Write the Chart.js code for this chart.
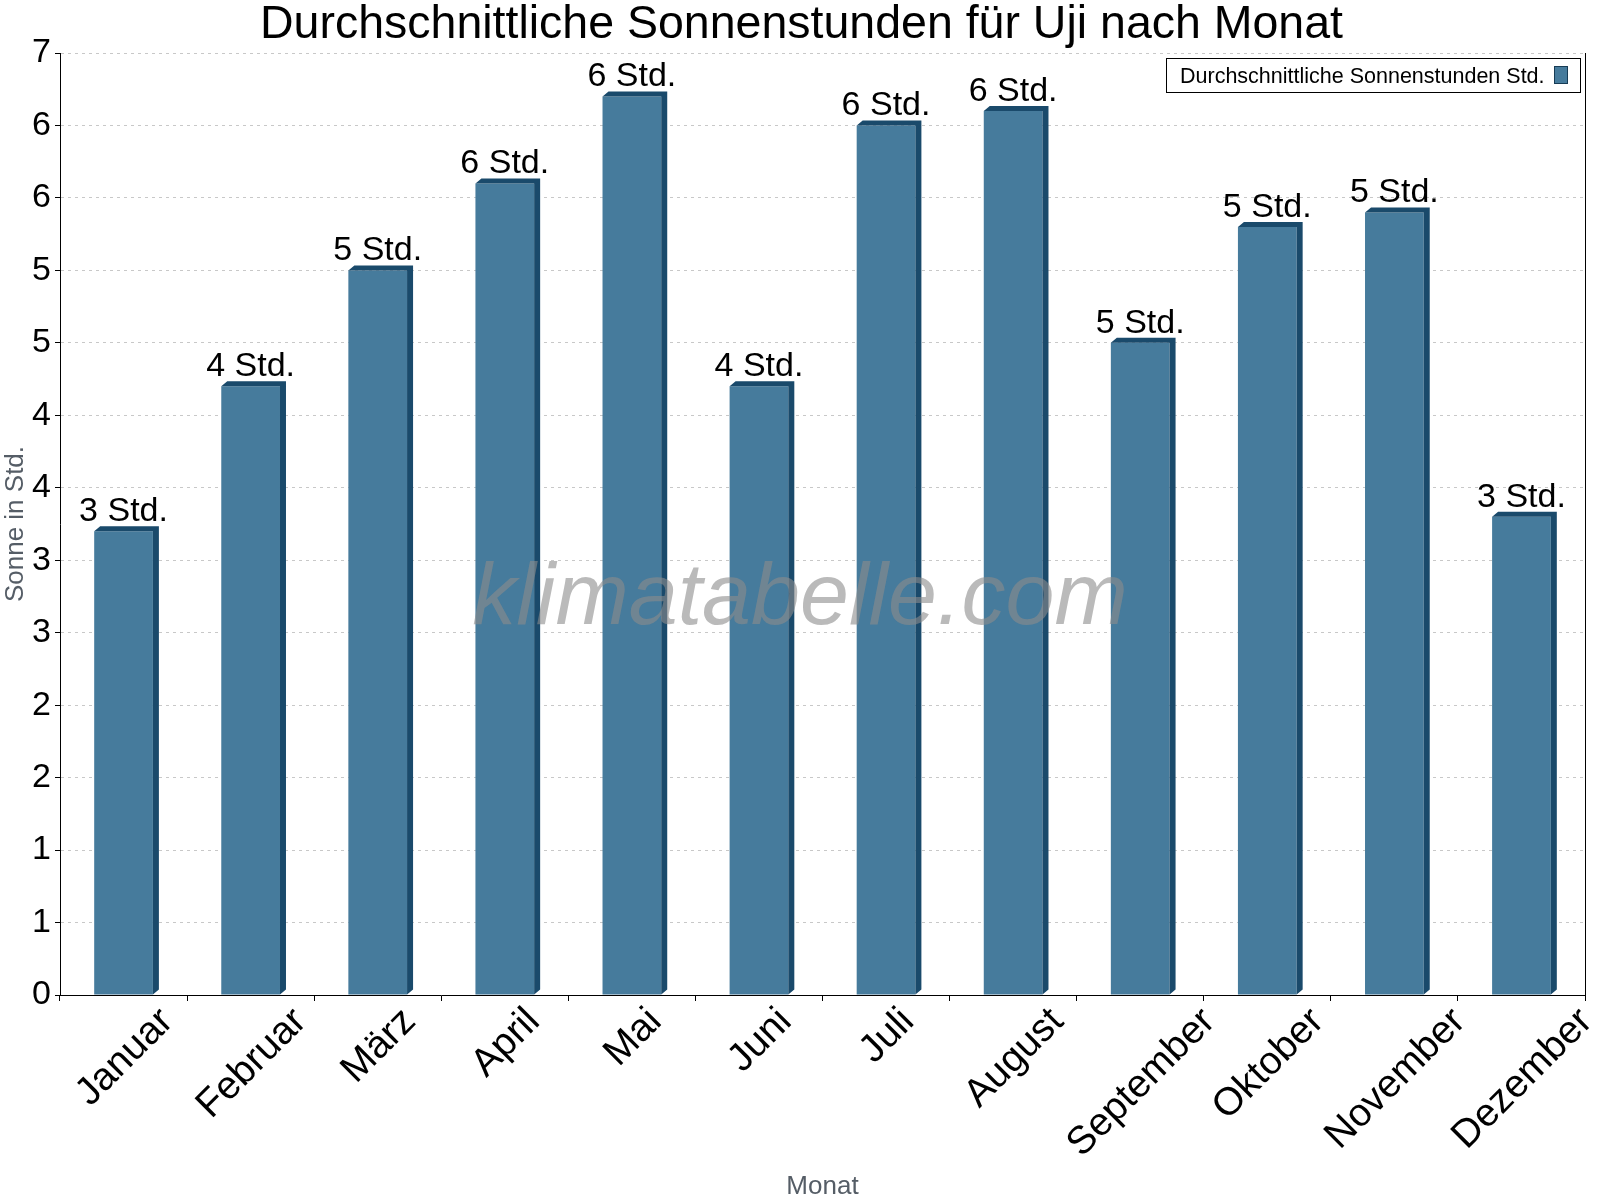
<!DOCTYPE html>
<html><head><meta charset="utf-8">
<script src="https://cdn.jsdelivr.net/npm/chart.js@4.4.1/dist/chart.umd.min.js"></script>
<style>html,body{margin:0;padding:0;background:#fff;}#wrap{width:1600px;height:1200px;}</style>
</head><body><div id="wrap"><canvas id="c" width="1600" height="1200"></canvas></div>
<script>
const chartTitle = 'Durchschnittliche Sonnenstunden für Uji nach Monat';
const months = ['Januar','Februar','März','April','Mai','Juni','Juli','August','September','Oktober','November','Dezember'];
const sunHours = [3.2, 4.2, 5.0, 5.6, 6.2, 4.2, 6.0, 6.1, 4.5, 5.3, 5.4, 3.3];
const seriesLabel = 'Durchschnittliche Sonnenstunden Std.';
const yAxisTitle = 'Sonne in Std.';
const xAxisTitle = 'Monat';
const unitLabel = 'Std.';
const watermarkText = 'klimatabelle.com';
const yMin = 0, yMax = 6.5, yStep = 0.5;

const FONT = "'Liberation Sans', Arial, sans-serif";
const FRONT = '#467b9c';
const DARK = '#1a4a6b';
const AXIS_GRAY = '#555d66';

const bgPlugin = {
  id: 'bg',
  beforeDraw(chart) {
    const ctx = chart.ctx;
    ctx.save(); ctx.fillStyle = '#fff'; ctx.fillRect(0, 0, chart.width, chart.height);
    // chart title, centred on the canvas
    ctx.fillStyle = '#000';
    ctx.font = '46.5px ' + FONT;
    ctx.textAlign = 'center';
    ctx.textBaseline = 'alphabetic';
    ctx.fillText(chartTitle, chart.width / 2 + 1.5, 38);
    ctx.restore();
  }
};

const bar3d = {
  id: 'bar3d',
  afterDatasetsDraw(chart) {
    const ctx = chart.ctx;
    const meta = chart.getDatasetMeta(0);
    const dx = 6, dy = 5;
    ctx.save();
    meta.data.forEach((bar, i) => {
      const p = bar.getProps(['x', 'y', 'base', 'width'], true);
      const left = p.x - p.width / 2, right = p.x + p.width / 2;
      ctx.fillStyle = DARK;
      ctx.beginPath();
      ctx.moveTo(left, p.y);
      ctx.lineTo(left + dx, p.y - dy);
      ctx.lineTo(right + dx, p.y - dy);
      ctx.lineTo(right + dx, p.base - dy);
      ctx.lineTo(right, p.base);
      ctx.lineTo(right, p.y);
      ctx.closePath();
      ctx.fill();
      ctx.fillStyle = '#000';
      ctx.font = '34px ' + FONT;
      ctx.textAlign = 'center';
      ctx.textBaseline = 'alphabetic';
      ctx.fillText(Math.round(sunHours[i]) + ' ' + unitLabel, p.x, p.y - 10);
    });
    ctx.restore();
  }
};

const decor = {
  id: 'decor',
  afterDraw(chart) {
    const ctx = chart.ctx;
    const a = chart.chartArea;
    const xs = chart.scales.x;
    ctx.save();
    // right frame line
    ctx.strokeStyle = '#000'; ctx.lineWidth = 1;
    ctx.beginPath();
    ctx.moveTo(Math.round(a.right) + 0.5, a.top);
    ctx.lineTo(Math.round(a.right) + 0.5, a.bottom);
    ctx.stroke();
    // x tick labels, rotated -45deg, horizontally centred on the category, top-aligned
    ctx.fillStyle = '#000';
    ctx.font = '39px ' + FONT;
    ctx.textAlign = 'right';
    ctx.textBaseline = 'alphabetic';
    months.forEach((m, i) => {
      const x = xs.getPixelForValue(i);
      const L = ctx.measureText(m).width;
      ctx.save();
      ctx.translate(x + 0.3535 * L + 9, a.bottom + 28);
      ctx.rotate(-Math.PI / 4);
      ctx.fillText(m, 0, 0);
      ctx.restore();
    });
    // legend
    const lx = 1166.5, ly = 58.5, lw = 414, lh = 34;
    ctx.fillStyle = '#fff';
    ctx.fillRect(lx, ly, lw, lh);
    ctx.strokeStyle = '#000';
    ctx.strokeRect(lx, ly, lw, lh);
    ctx.fillStyle = '#000';
    ctx.font = '21.5px ' + FONT;
    ctx.textAlign = 'left';
    ctx.textBaseline = 'alphabetic';
    ctx.fillText(seriesLabel, 1180, 82.5);
    ctx.fillStyle = FRONT;
    ctx.fillRect(1554.5, 66.5, 13, 17);
    ctx.strokeStyle = '#173c55';
    ctx.strokeRect(1554.5, 66.5, 13, 17);
    // watermark
    ctx.fillStyle = 'rgba(140,140,140,0.6)';
    ctx.font = 'italic 88px ' + FONT;
    ctx.textAlign = 'center';
    ctx.textBaseline = 'alphabetic';
    ctx.fillText(watermarkText, 800, 624);
    ctx.restore();
  }
};

new Chart(document.getElementById('c'), {
  type: 'bar',
  data: {
    labels: months,
    datasets: [{
      label: seriesLabel,
      data: sunHours,
      backgroundColor: FRONT,
      borderWidth: 0,
      barPercentage: 0.462,
      categoryPercentage: 1.0
    }]
  },
  options: {
    responsive: false,
    devicePixelRatio: 1,
    animation: false,
    layout: { padding: { top: 53, left: 0, right: 15, bottom: 0 } },
    plugins: {
      legend: { display: false },
      tooltip: { enabled: false },
      title: { display: false }
    },
    scales: {
      x: {
        offset: true,
        grid: { offset: true, drawOnChartArea: false, drawTicks: true, tickLength: 6, tickColor: '#000', tickWidth: 1 },
        border: { display: true, color: '#000', width: 1 },
        ticks: { display: false },
        title: { display: true, text: xAxisTitle, color: AXIS_GRAY, font: { family: FONT, size: 26 }, padding: { top: 0, bottom: -2 } },
        afterFit(scale) { scale.height = 205; }
      },
      y: {
        min: yMin, max: yMax,
        grid: { color: '#c8c8c8', lineWidth: 1, drawTicks: true, tickLength: 5, tickColor: '#000', tickWidth: 1 },
        border: { display: true, color: '#000', width: 1, dash: [3, 4] },
        ticks: {
          stepSize: yStep, color: '#000', padding: 4,
          font: { family: FONT, size: 34 },
          callback: (v) => String(Math.round(v))
        },
        title: { display: true, text: yAxisTitle, color: AXIS_GRAY, font: { family: FONT, size: 26 }, padding: 0 },
        afterFit(scale) { scale.width = 60; }
      }
    }
  },
  plugins: [bgPlugin, bar3d, decor]
});
</script>
</body></html>
